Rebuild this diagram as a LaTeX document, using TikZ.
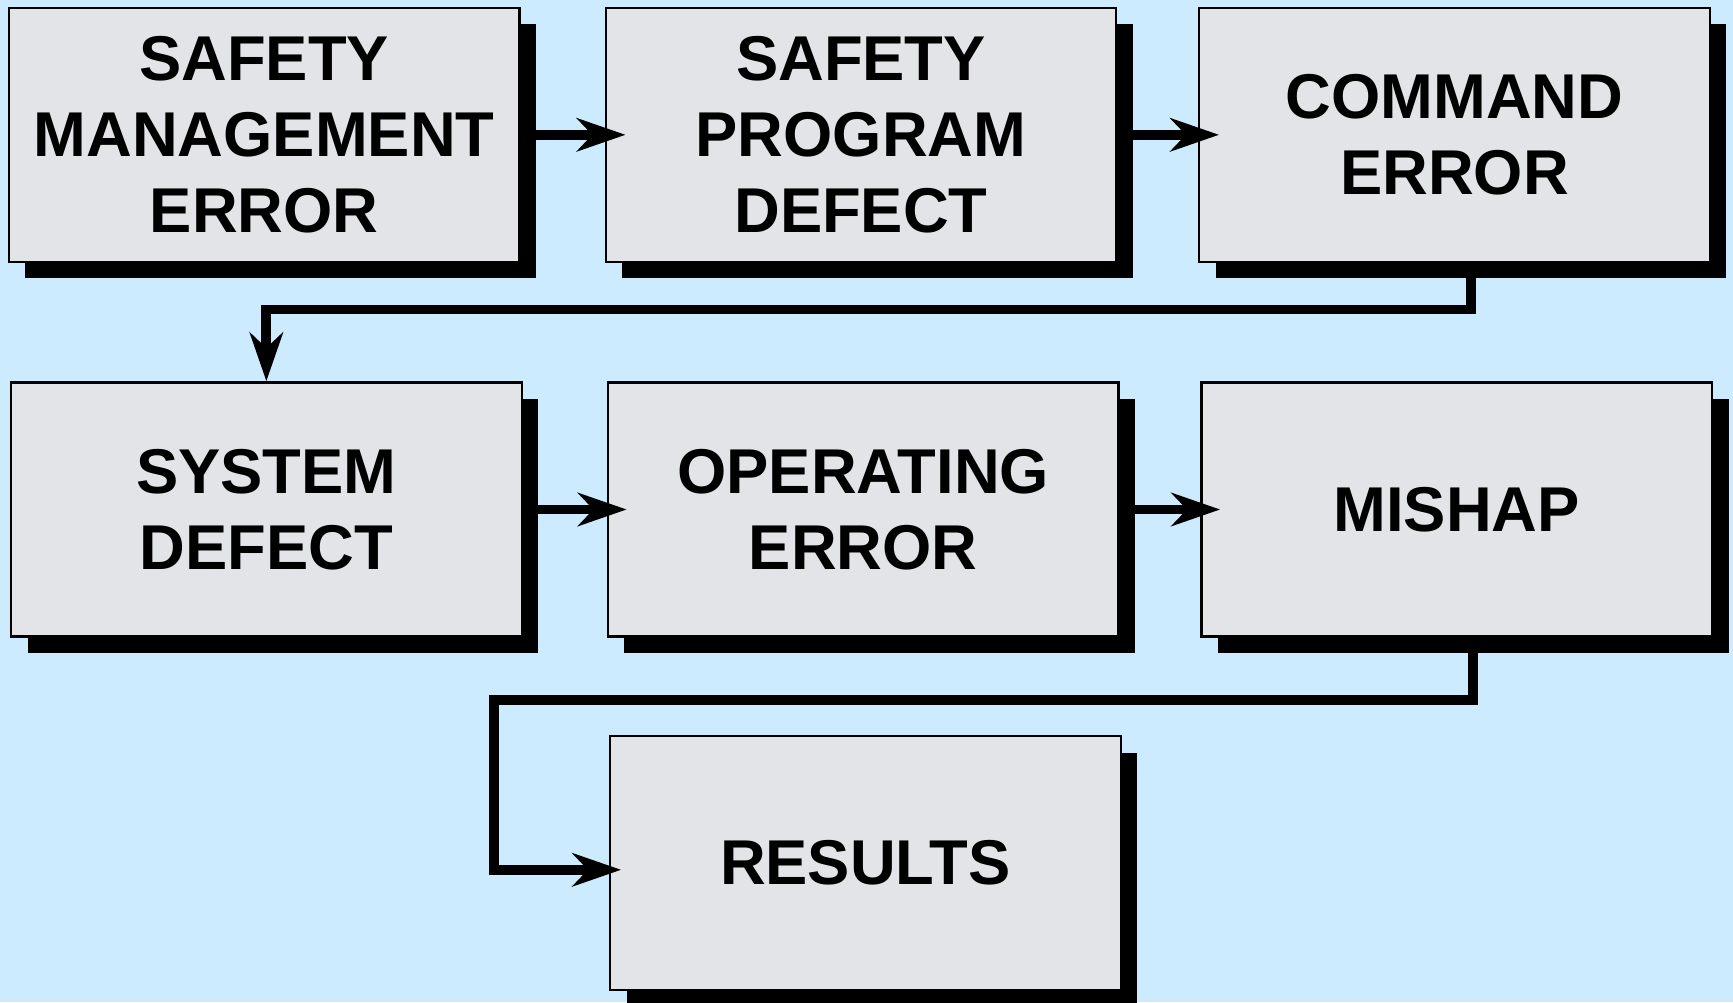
\documentclass[tikz,border=0pt]{standalone}
\usepackage{fontspec}
\setmainfont{Liberation Sans}
\usetikzlibrary{arrows.meta,shadows}
\definecolor{skyback}{RGB}{204,235,255}
\definecolor{marble}{RGB}{226,228,231}

\begin{document}
\begin{tikzpicture}[auto,
    box/.style={draw=black, line width=0.6pt, fill=marble,
        minimum width=4.62cm, minimum height=2.30cm, inner sep=0pt,
        align=center, font=\bfseries\fontsize{16.3}{19.6}\selectfont,
        drop shadow={shadow xshift=0.15cm, shadow yshift=-0.15cm, fill=black, opacity=1}},
    link/.style={line width=0.09cm,
        -{Stealth[length=0.44cm, width=0.30cm, inset=0.14cm]}}]

    \fill[skyback] (0,0) rectangle (15.68,9.07);

    \node[box] (a) at (2.39, 7.85) {SAFETY\\MANAGEMENT\\ERROR};
    \node[box] (b) at (7.79, 7.85) {SAFETY\\PROGRAM\\DEFECT};
    \node[box] (c) at (13.16, 7.85) {COMMAND\\ERROR};
    \node[box] (d) at (2.41, 4.46) {SYSTEM\\DEFECT};
    \node[box] (e) at (7.81, 4.46) {OPERATING\\ERROR};
    \node[box] (f) at (13.18, 4.46) {MISHAP};
    \node[box] (g) at (7.83, 1.26) {RESULTS};

    \draw [link, shorten >=-0.19cm] (a) -- (b);
    \draw [link, shorten >=-0.19cm] (b) -- (c);
    \draw [link] ([xshift=0.15cm]c.south) -- ++(0,-0.42) -| (d.north);
    \draw [link, shorten >=-0.18cm] (d) -- (e);
    \draw [link, shorten >=-0.18cm] (e) -- (f);
    \draw [link, shorten >=-0.11cm] ([xshift=0.15cm]f.south) -- ++(0,-0.56)
        -| ([xshift=-1.04cm, yshift=-0.06cm]g.west) -- ([yshift=-0.06cm]g.west);

\end{tikzpicture}
\end{document}
